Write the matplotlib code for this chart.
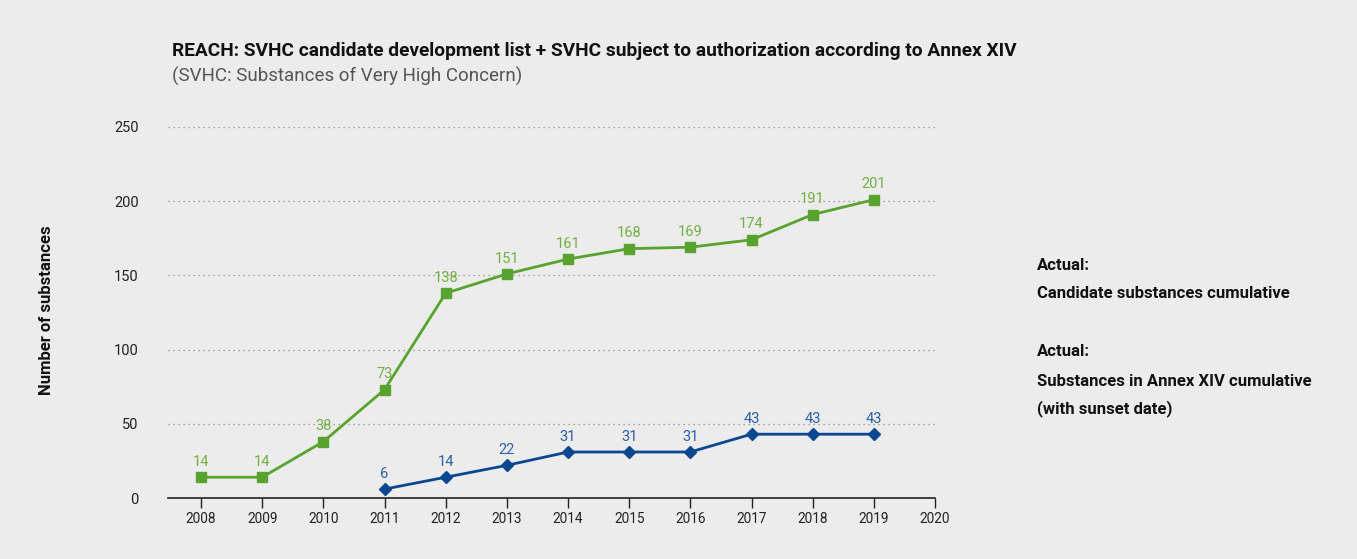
import matplotlib
matplotlib.use("Agg")
import matplotlib.pyplot as plt

years = list(range(2008, 2021))
cand_years = list(range(2008, 2020))
cand_vals = [14, 14, 38, 73, 138, 151, 161, 168, 169, 174, 191, 201]
annex_years = list(range(2011, 2020))
annex_vals = [6, 14, 22, 31, 31, 31, 43, 43, 43]
yticks = [0, 50, 100, 150, 200, 250]

title = "REACH: SVHC candidate development list + SVHC subject to authorization according to Annex XIV"
subtitle = "(SVHC: Substances of Very High Concern)"
ylabel = "Number of substances"
legend_lines = [("Actual:", 265), ("Candidate substances cumulative", 293),
                ("Actual:", 351), ("Substances in Annex XIV cumulative", 381),
                ("(with sunset date)", 409)]

GREEN = "#58a22e"
GREEN_LBL = "#72b043"
BLUE = "#0b4690"
BLUE_LBL = "#2b5fa6"
BG = "#ececec"

plt.rcParams['font.family'] = ['Roboto', 'DejaVu Sans']

W, H = 1357, 559
fig = plt.figure(figsize=(W / 100, H / 100), dpi=100, facecolor=BG)
ax = fig.add_axes([168 / W, 1 - 498 / H, (935 - 168) / W, (498 - 127) / H], facecolor=BG)

ax.set_xlim(2007.46, 2020)
ax.set_ylim(0, 250)

for y in yticks[1:]:
    ax.axhline(y, color="#8a8a8a", linestyle=(0, (1, 3)), linewidth=0.9, zorder=1)

ax.plot(cand_years, cand_vals, color=GREEN, linewidth=2, marker="s", markersize=7.5,
        zorder=3, clip_on=False)
ax.plot(annex_years, annex_vals, color=BLUE, linewidth=2, marker="D", markersize=6.5,
        zorder=3, clip_on=False)

for x, v in zip(cand_years, cand_vals):
    ax.annotate(str(v), (x, v), xytext=(0, 6), textcoords="offset points",
                ha="center", va="bottom", color=GREEN_LBL, fontsize=10.5)
for x, v in zip(annex_years, annex_vals):
    ax.annotate(str(v), (x, v), xytext=(0, 6), textcoords="offset points",
                ha="center", va="bottom", color=BLUE_LBL, fontsize=10.5)

ax.set_xticks(years)
ax.set_xticklabels([str(y) for y in years], fontsize=9.8, color="#222222")
ax.set_yticks(yticks)
ax.set_yticklabels([str(y) for y in yticks], fontsize=10.5, color="#222222")
ax.tick_params(axis="x", direction="out", length=7, width=1, color="#222222", pad=3)
ax.tick_params(axis="y", length=0, pad=21)

for s in ["top", "right", "left"]:
    ax.spines[s].set_visible(False)
ax.spines["bottom"].set_color("#222222")
ax.spines["bottom"].set_linewidth(1.2)

fig.text(172 / W, 1 - 51 / H, title, fontsize=13.8, fontweight="bold", color="#111111",
         ha="left", va="center")
fig.text(172 / W, 1 - 76 / H, subtitle, fontsize=13.5, color="#555555", ha="left", va="center")
fig.text(47 / W, 1 - 310 / H, ylabel, rotation=90, fontsize=12, fontweight="bold",
         color="#111111", ha="center", va="center")

for txt, y in legend_lines:
    fig.text(1037 / W, 1 - y / H, txt, fontsize=12, fontweight="bold", color="#111111",
             ha="left", va="center")

fig.savefig("out.png", dpi=100, facecolor=BG)
